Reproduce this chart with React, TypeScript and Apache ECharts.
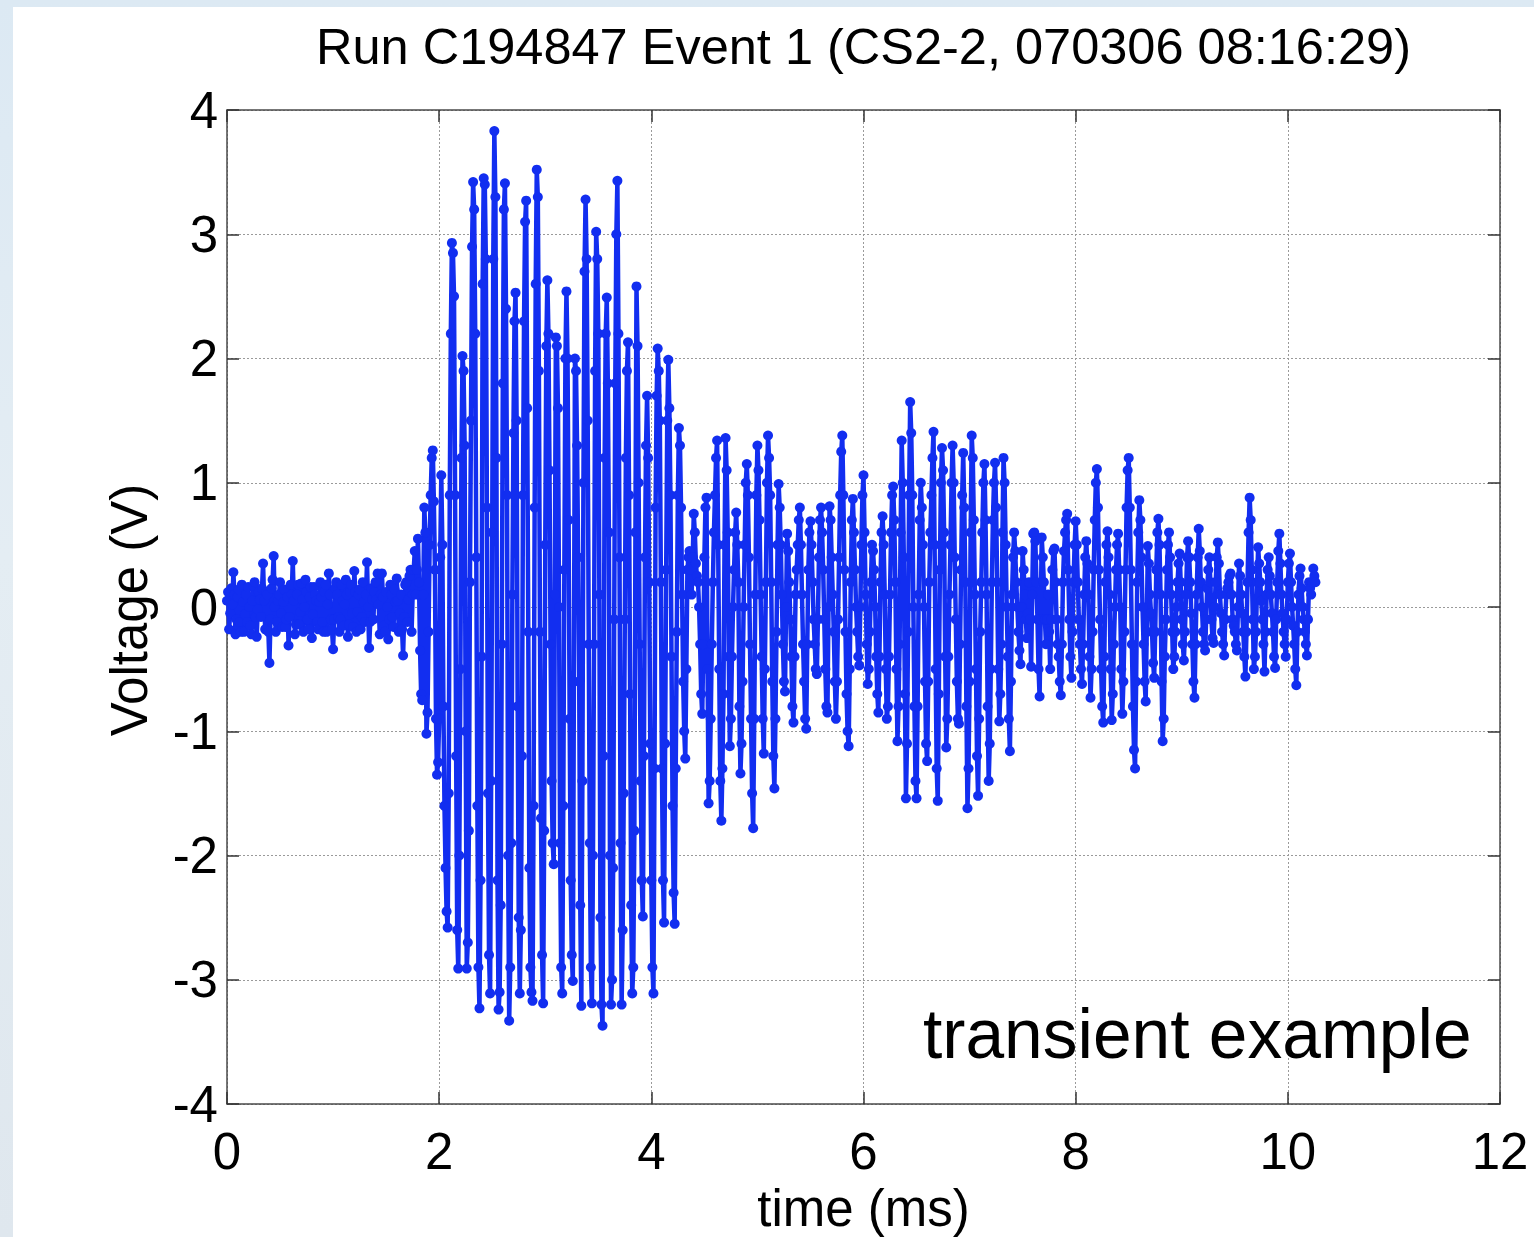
import React, { useEffect, useRef } from "react";
import * as echarts from "echarts";

// sampling step of the recorded trace (ms)
const SAMPLE_STEP_MS = 0.01;

// axis ranges / ticks
const X_MIN = 0;
const X_MAX = 12;
const X_STEP = 2;
const Y_MIN = -4;
const Y_MAX = 4;
const Y_STEP = 1;

const TITLE = "Run C194847 Event 1 (CS2-2, 070306 08:16:29)";
const X_NAME = "time (ms)";
const Y_NAME = "Voltage (V)";
const NOTE = "transient example";

// 0.00 – 1.79 ms : pre-trigger noise
const preTrigger = [
  0.05, 0.12, -0.18, -0.05, 0.15, 0.02, 0.28, 0.1, -0.22, -0.1, 0.08, 0.14, -0.12, -0.2, 0.18, 0.04, -0.2, -0.06, 0.1, -0.12,
  0.16, 0.0, -0.15, -0.22, 0.05, 0.17, 0.2, -0.08, -0.24, -0.02, 0.12, 0.06, -0.08, 0.15, 0.35, 0.05, -0.18, 0.12, 0.1, -0.2,
  -0.45, -0.1, 0.15, 0.22, 0.41, 0.0, -0.2, -0.12, 0.05, 0.1, 0.2, -0.05, -0.16, 0.04, 0.14, -0.16, -0.1, 0.08, -0.31, -0.08,
  0.18, 0.1, 0.37, 0.05, -0.22, -0.14, 0.1, 0.18, -0.14, -0.04, 0.19, 0.06, -0.2, 0.0, 0.22, 0.12, -0.1, -0.18, 0.08, 0.16,
  -0.25, -0.06, 0.16, 0.1, 0.05, -0.12, -0.18, 0.04, 0.2, 0.08, -0.12, -0.2, 0.12, 0.18, -0.2, 0.02, 0.27, 0.1, -0.1, -0.18,
  -0.34, -0.1, 0.15, 0.2, 0.1, -0.08, -0.2, -0.1, 0.18, 0.05, -0.15, 0.02, 0.22, 0.1, -0.24, -0.14, 0.12, 0.18, -0.05, -0.16,
  0.29, 0.12, -0.2, -0.04, 0.1, 0.14, -0.18, -0.08, 0.2, 0.04, -0.12, 0.1, 0.36, 0.0, -0.33, -0.12, 0.15, 0.06, -0.1, 0.12,
  0.2, 0.06, 0.27, 0.02, -0.22, 0.1, 0.27, 0.08, -0.15, -0.2, 0.12, 0.0, -0.26, -0.1, 0.18, 0.1, -0.08, -0.16, 0.14, 0.04,
  0.23, 0.05, -0.2, -0.05, 0.1, -0.18, -0.39, -0.08, 0.18, 0.2, -0.12, 0.06, 0.25, 0.3, -0.2, 0.1, 0.3, 0.45, 0.1, 0.3,
];

// 1.80 – 2.11 ms : onset
const onset = [
  0.55, 0.2, -0.35, -0.7, -0.75, 0.1, 0.8, 0.6, -1.02, -0.85, -0.2, 0.5, 0.9, 1.2, 1.26, 0.85,
  0.3, -0.9, -1.35, -1.25, -0.9, 0.4, 1.06, 0.5, -0.8, -1.6, -2.1, -2.45, -2.58, -1.5, 0.9, 2.2,
];

// 2.12 – 4.35 ms : main burst
const burst = [
  2.93, 2.85, 2.5, 0.9, -1.2, -2.6, -2.91, -2.0, -0.5, 1.2, 2.02, 1.9, 1.3, -1.0, -2.91, -2.7, -1.8, 0.2, 1.5, 2.9,
  3.42, 3.2, 2.2, 0.4, -1.6, -2.9, -3.23, -2.2, -0.4, 2.6, 3.45, 3.4, 2.8, 0.8, -1.5, -2.8, -3.11, -1.4, 0.6, 2.8,
  3.83, 3.3, 1.2, -2.2, -3.24, -3.1, -2.4, -0.3, 1.8, 3.2, 3.41, 2.4, 0.9, -2.0, -3.33, -2.9, -1.9, 0.1, 1.4, 2.3,
  2.53, 1.5, -0.8, -2.5, -3.11, -2.6, -1.2, 0.9, 2.3, 3.1, 3.27, 1.6, -0.2, -2.1, -2.9, -3.1, -3.17, -1.6, 0.8, 2.6,
  3.52, 3.3, 1.9, -0.2, -1.7, -2.8, -3.19, -1.8, 0.5, 2.1, 2.63, 2.2, 1.1, -0.3, -1.4, -1.9, -2.07, 0.1, 2.17, 2.1,
  1.6, 0.0, -1.9, -2.9, -3.11, -1.6, 0.3, 2.0, 2.54, 2.0, 0.7, -0.9, -2.2, -2.8, -3.01, -0.6, 2.0, 1.9, 1.3, 0.4,
  -0.6, -2.4, -3.21, -1.4, 1.0, 2.7, 3.28, 2.8, 1.5, -0.3, -1.9, -2.9, -3.19, -2.0, -0.3, 1.9, 3.02, 2.8, 2.2, 0.1,
  -2.5, -3.2, -3.37, -1.2, 1.2, 2.2, 2.49, 1.8, 0.6, -2.0, -3.2, -3.0, -2.1, -0.1, 1.8, 3.0, 3.43, 2.2, 0.4, -1.9,
  -3.2, -2.6, -1.5, -0.1, 1.2, 1.9, 2.13, 0.9, -0.7, -2.4, -3.11, -2.9, -1.8, 0.6, 2.58, 2.1, 1.0, -0.3, -1.4, -2.2,
  -2.49, -1.2, 0.4, 1.3, 1.7, 1.2, 0.2, -1.1, -2.2, -2.9, -3.11, -1.3, 0.8, 1.7, 2.08, 1.9, 1.5, 0.2, -1.3, -2.2,
  -2.54, -1.1, 0.3, 1.5, 1.99, 1.6, 0.9, -0.4, -1.6, -2.3, -2.55, -1.3, -0.2, 0.9, 1.44, 1.3, 0.8, 0.1, -0.6, -1.0,
  -1.22, -0.5, 0.3, 0.4,
];

// 4.36 – 10.26 ms : ring-down
const ringdown = [
  0.45, 0.3, 0.1, 0.4, 0.75, 0.6, 0.35, 0.25, 0.2, 0.0, -0.3, -0.7, -0.86, -0.3, 0.4, 0.8, 0.88, -0.5, -1.58, -1.4,
  -0.9, -0.3, 0.2, 0.6, 0.9, 1.2, 1.34, 0.5, -0.5, -1.4, -1.72, -1.3, -0.7, 0.5, 1.36, 1.1, 0.6, -0.4, -1.12, -0.9,
  -0.4, 0.0, 0.3, 0.6, 0.76, 0.5, 0.2, -0.8, -1.34, -1.1, -0.6, 0.0, 0.5, 1.0, 1.15, 0.9, 0.4, -0.3, -0.9, -1.5,
  -1.78, -0.9, 0.1, 0.9, 1.3, 1.1, 0.7, 0.1, -0.4, -0.9, -1.18, -0.5, 0.2, 1.0, 1.38, 1.2, 0.9, 0.2, -0.6, -1.2,
  -1.46, -0.9, -0.2, 0.5, 0.99, 0.8, 0.5, 0.1, -0.3, -0.6, -0.68, 0.0, 0.59, 0.45, 0.2, -0.1, -0.4, -0.8, -0.93, -0.4,
  0.1, 0.3, 0.5, 0.7, 0.8, 0.5, 0.1, -0.3, -0.6, -0.9, -0.98, -0.3, 0.3, 0.6, 0.69, 0.5, 0.2, -0.1, -0.3, -0.5,
  -0.54, -0.1, 0.4, 0.7, 0.8, 0.6, 0.3, -0.1, -0.5, -0.8, -0.85, 0.0, 0.81, 0.7, 0.4, 0.1, -0.2, -0.6, -0.9, -0.6,
  -0.1, 0.4, 0.9, 1.25, 1.38, 0.9, 0.3, -0.2, -0.7, -1.0, -1.12, -0.5, 0.2, 0.7, 0.87, 0.6, 0.3, 0.0, -0.2, -0.4,
  -0.47, 0.0, 0.5, 0.9, 1.06, 0.6, 0.1, -0.3, -0.62, -0.5, -0.2, 0.2, 0.5, 0.45, 0.3, 0.0, -0.4, -0.7, -0.85, -0.4,
  0.2, 0.6, 0.73, 0.5, 0.1, -0.5, -0.9, -0.8, -0.4, 0.1, 0.6, 0.9, 0.97, 0.7, 0.2, -0.5, -1.08, -0.8, -0.3, 0.6,
  1.34, 1.0, 0.4, -0.7, -1.54, -1.1, -0.2, 0.9, 1.65, 1.4, 0.9, 0.0, -0.8, -1.4, -1.54, -0.8, 0.1, 0.7, 1.0, 0.8,
  0.5, 0.0, -0.6, -1.1, -1.24, -0.6, 0.2, 0.6, 0.9, 1.2, 1.41, 0.5, -0.5, -1.3, -1.56, -0.7, 0.3, 1.0, 1.28, 1.1,
  0.6, -0.4, -1.13, -0.9, -0.4, 0.1, 0.5, 1.0, 1.3, 1.0, 0.4, -0.1, -0.6, -0.9, -0.94, -0.3, 0.3, 0.9, 1.24, 0.8,
  0.2, -0.8, -1.62, -1.3, -0.6, 0.6, 1.38, 1.2, 0.7, 0.1, -0.5, -1.2, -1.52, -0.9, -0.2, 0.2, 0.6, 1.0, 1.15, 0.7,
  0.1, -0.8, -1.4, -1.1, -0.5, 0.2, 0.7, 1.0, 1.16, 0.8, 0.2, -0.5, -0.92, -0.7, -0.3, 0.6, 1.2, 1.0, 0.5, 0.0,
  -0.4, -0.9, -1.16, -0.6, 0.1, 0.4, 0.6, 0.45, 0.2, 0.0, -0.2, -0.35, -0.46, 0.0, 0.45, 0.3, 0.1, -0.1, -0.25, -0.05,
  0.2, -0.1, -0.48, 0.1, 0.59, 0.6, 0.53, 0.2, -0.1, -0.5, -0.72, -0.1, 0.56, 0.4, 0.2, -0.1, -0.3, -0.1, 0.1, -0.2,
  -0.5, -0.1, 0.3, 0.45, 0.47, 0.2, -0.1, -0.3, -0.4, -0.6, -0.71, -0.3, 0.2, 0.45, 0.6, 0.7, 0.75, 0.3, -0.1, -0.4,
  -0.57, -0.2, 0.2, 0.5, 0.69, 0.5, 0.2, -0.1, -0.3, -0.5, -0.62, -0.3, 0.1, 0.4, 0.53, 0.35, 0.1, -0.4, -0.73, -0.5,
  -0.2, 0.3, 0.7, 1.0, 1.11, 0.8, 0.3, -0.1, -0.5, -0.8, -0.93, -0.4, 0.2, 0.5, 0.61, 0.4, 0.1, -0.5, -0.91, -0.7,
  -0.3, 0.0, 0.3, 0.5, 0.59, 0.3, 0.0, -0.5, -0.86, -0.6, -0.2, 0.3, 0.8, 1.1, 1.2, 0.8, 0.3, -0.3, -0.8, -1.15,
  -1.3, -0.6, 0.2, 0.6, 0.86, 0.7, 0.4, 0.0, -0.3, -0.6, -0.76, -0.2, 0.49, 0.35, 0.1, -0.05, -0.2, -0.45, -0.57, -0.2,
  0.3, 0.6, 0.71, 0.5, 0.1, -0.6, -1.08, -0.9, -0.4, -0.1, 0.3, 0.5, 0.6, 0.4, 0.1, -0.2, -0.5, -0.4, -0.2, 0.0,
  0.2, 0.35, 0.43, 0.2, -0.1, -0.3, -0.43, -0.2, 0.1, 0.4, 0.53, 0.4, 0.2, -0.05, -0.3, -0.6, -0.73, -0.3, 0.1, 0.4,
  0.63, 0.45, 0.2, 0.0, -0.2, -0.3, -0.35, -0.1, 0.15, 0.3, 0.4, 0.2, -0.1, -0.25, -0.29, 0.0, 0.2, 0.4, 0.52, 0.35,
  0.1, -0.05, -0.2, -0.3, -0.39, -0.1, 0.1, 0.15, 0.2, 0.25, 0.27, 0.1, -0.1, -0.15, -0.2, -0.3, -0.35, 0.0, 0.35, 0.25,
  0.1, -0.05, -0.2, -0.4, -0.56, -0.2, 0.2, 0.6, 0.88, 0.7, 0.3, -0.1, -0.5, -0.4, -0.2, 0.2, 0.48, 0.35, 0.2, 0.05,
  -0.1, -0.3, -0.52, -0.2, 0.1, 0.3, 0.4, 0.25, 0.1, -0.05, -0.2, -0.4, -0.49, -0.1, 0.2, 0.45, 0.59, 0.35, 0.1, -0.05,
  -0.2, -0.3, -0.4, -0.1, 0.2, 0.35, 0.43, 0.2, 0.0, -0.15, -0.3, -0.5, -0.63, -0.2, 0.1, 0.25, 0.31, 0.15, 0.0, -0.1,
  -0.2, -0.3, -0.39, -0.1, 0.2, 0.15, 0.1, 0.2, 0.31, 0.25, 0.2,
];

const FONT = '"Liberation Sans", Arial, Helvetica, sans-serif';
const BLUE = "#122ef0";

export default function App() {
  const ref = useRef<HTMLDivElement>(null);

  useEffect(() => {
    if (!ref.current) return;
    const chart = echarts.init(ref.current, null, {
      renderer: "svg",
      width: 1534,
      height: 1237,
    });
    const samples = [...preTrigger, ...onset, ...burst, ...ringdown];
    const data = samples.map((v, i) => [Number((i * SAMPLE_STEP_MS).toFixed(3)), v]);

    const axisLine = { show: true, onZero: false, lineStyle: { color: "#4a4a4a", width: 1.5 } };
    const axisTick = { show: true, inside: true, length: 12, lineStyle: { color: "#333", width: 1.5 } };
    const grid = { show: true, lineStyle: { color: "#9a9a9a", type: [2, 2], width: 1 } };

    chart.setOption({
      animation: false,
      backgroundColor: "transparent",
      grid: { left: 227, right: 34, top: 110, bottom: 133, containLabel: false },
      xAxis: [
        {
          type: "value",
          position: "bottom",
          min: X_MIN,
          max: X_MAX,
          interval: X_STEP,
          axisLine,
          axisTick,
          axisLabel: { show: true, margin: 22, color: "#000", fontSize: 51, fontFamily: FONT },
          splitLine: grid,
        },
        {
          type: "value",
          position: "top",
          min: X_MIN,
          max: X_MAX,
          interval: X_STEP,
          axisLine,
          axisTick,
          axisLabel: { show: false },
          splitLine: { show: false },
        },
      ],
      yAxis: [
        {
          type: "value",
          position: "left",
          min: Y_MIN,
          max: Y_MAX,
          interval: Y_STEP,
          axisLine,
          axisTick,
          axisLabel: { show: true, margin: 9, color: "#000", fontSize: 51, fontFamily: FONT },
          splitLine: grid,
        },
        {
          type: "value",
          position: "right",
          min: Y_MIN,
          max: Y_MAX,
          interval: Y_STEP,
          axisLine,
          axisTick,
          axisLabel: { show: false },
          splitLine: { show: false },
        },
      ],
      series: [
        {
          type: "line",
          xAxisIndex: 0,
          yAxisIndex: 0,
          data,
          symbol: "circle",
          symbolSize: 10,
          showAllSymbol: true,
          lineStyle: { color: BLUE, width: 4.5 },
          itemStyle: { color: BLUE, borderWidth: 0 },
          silent: true,
          z: 5,
        },
      ],
      graphic: [
        {
          type: "text",
          x: 863.5,
          y: 46.5,
          style: {
            text: TITLE,
            fontSize: 50.5,
            fontFamily: FONT,
            fill: "#000",
            align: "center",
            verticalAlign: "middle",
            textAlign: "center",
            textVerticalAlign: "middle",
          },
        },
        {
          type: "text",
          x: 863.5,
          y: 1208,
          style: {
            text: X_NAME,
            fontSize: 51,
            fontFamily: FONT,
            fill: "#000",
            align: "center",
            verticalAlign: "middle",
            textAlign: "center",
            textVerticalAlign: "middle",
          },
        },
        {
          type: "text",
          x: 129,
          y: 610,
          rotation: Math.PI / 2,
          style: {
            text: Y_NAME,
            fontSize: 51,
            fontFamily: FONT,
            fill: "#000",
            align: "center",
            verticalAlign: "middle",
            textAlign: "center",
            textVerticalAlign: "middle",
          },
        },
        {
          type: "text",
          x: 923,
          y: 1034,
          z: 10,
          style: {
            text: NOTE,
            fontSize: 69.5,
            fontFamily: FONT,
            fill: "#000",
            align: "left",
            verticalAlign: "middle",
            textAlign: "left",
            textVerticalAlign: "middle",
          },
        },
      ],
    });
    return () => chart.dispose();
  }, []);

  return (
    <div
      style={{
        position: "fixed",
        left: 0,
        top: 0,
        width: 1534,
        height: 1237,
        background: "linear-gradient(180deg, #dce9f3 0%, #e4edf3 45%, #dfe7ee 100%)",
        overflow: "hidden",
      }}
    >
      <div
        style={{
          position: "absolute",
          left: 13,
          top: 7,
          width: 1521,
          height: 1230,
          background: "#ffffff",
        }}
      />
      <div
        ref={ref}
        style={{ position: "absolute", left: 0, top: 0, width: 1534, height: 1237 }}
      />
    </div>
  );
}
